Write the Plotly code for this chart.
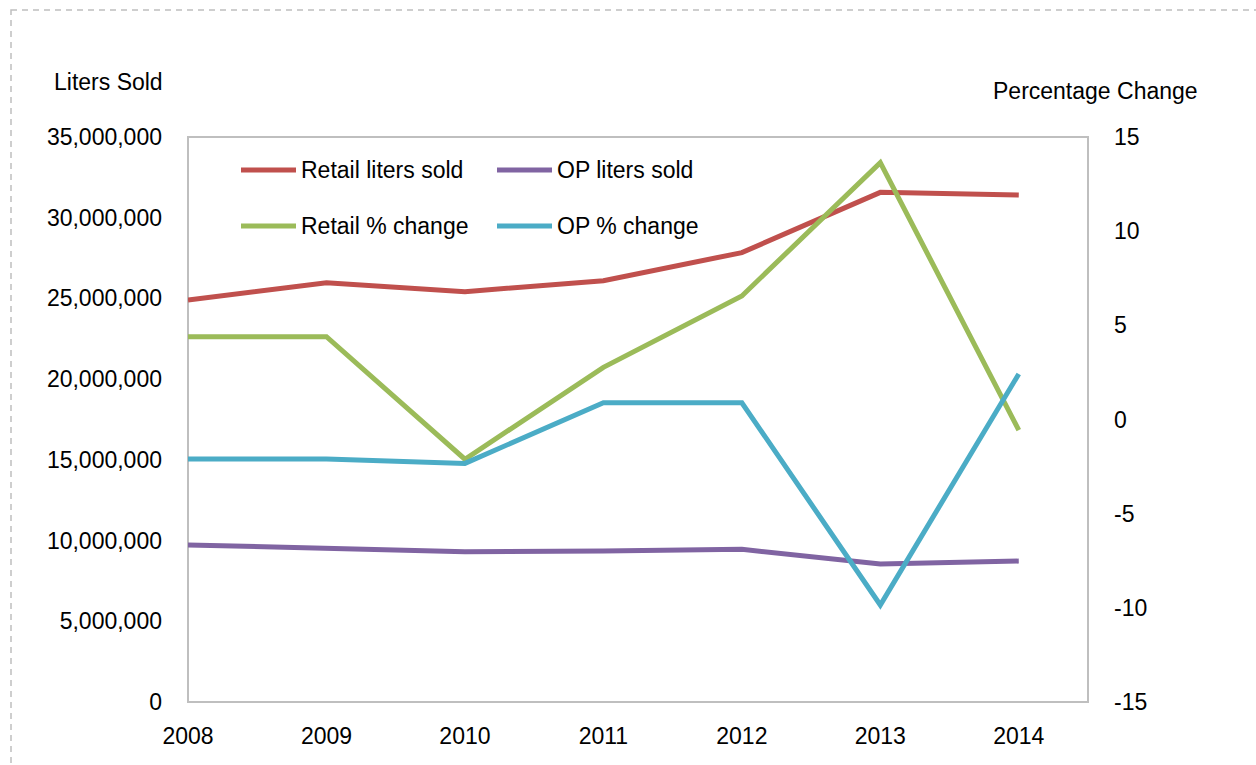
import plotly.graph_objects as go

# Annual volumes and year-over-year percentage change
years = [2008, 2009, 2010, 2011, 2012, 2013, 2014]
retail_liters = [24.90e6, 25.97e6, 25.42e6, 26.10e6, 27.84e6, 31.57e6, 31.41e6]
op_liters = [9.73e6, 9.52e6, 9.31e6, 9.36e6, 9.46e6, 8.55e6, 8.73e6]
retail_pct = [4.40, 4.40, -2.11, 2.77, 6.56, 13.64, -0.56]
op_pct = [-2.10, -2.10, -2.33, 0.89, 0.89, -9.85, 2.42]

left_ticks = list(range(0, 35000001, 5000000))
right_ticks = list(range(-15, 16, 5))
right_labels = [str(v) for v in right_ticks]  # plain hyphen for negatives

RED = "#C0504D"
PURPLE = "#8064A2"
GREEN = "#9BBB59"
CYAN = "#4BACC6"
FONT = "Liberation Sans, Arial, sans-serif"
FSIZE = 23

W, H = 1256, 765
L, R, T, B = 188, 168, 137, 63
PW, PH = W - L - R, H - T - B


def px(x):
    return (x - L) / PW


def py(y):
    return (H - B - y) / PH


fig = go.Figure()
line_style = dict(width=5)
fig.add_trace(go.Scatter(x=years, y=retail_liters, mode="lines", name="Retail liters sold",
                         line=dict(color=RED, **line_style), yaxis="y"))
fig.add_trace(go.Scatter(x=years, y=op_liters, mode="lines", name="OP liters sold",
                         line=dict(color=PURPLE, **line_style), yaxis="y"))
fig.add_trace(go.Scatter(x=years, y=retail_pct, mode="lines", name="Retail % change",
                         line=dict(color=GREEN, **line_style), yaxis="y2"))
fig.add_trace(go.Scatter(x=years, y=op_pct, mode="lines", name="OP % change",
                         line=dict(color=CYAN, **line_style), yaxis="y2"))

shapes = [
    # plot frame
    dict(type="rect", xref="paper", yref="paper", x0=0, y0=0, x1=1, y1=1,
         line=dict(color="#BFBFBF", width=2), layer="below"),
    # dashed outer chart border
    dict(type="rect", xref="paper", yref="paper", x0=px(11), y0=py(10), x1=px(1262), y1=py(780),
         line=dict(color="#BFBFBF", width=1.5, dash="6px,5px")),
]

annotations = [
    dict(text="Liters Sold", xref="paper", yref="paper", x=px(52), y=py(82),
         xanchor="left", yanchor="middle", showarrow=False,
         font=dict(family=FONT, size=FSIZE, color="black")),
    dict(text="Percentage Change", xref="paper", yref="paper", x=px(991), y=py(91),
         xanchor="left", yanchor="middle", showarrow=False,
         font=dict(family=FONT, size=FSIZE, color="black")),
]

# legend drawn inside the plot area, two columns by two rows
legend_items = [
    ("Retail liters sold", RED, 241, 170),
    ("OP liters sold", PURPLE, 497, 170),
    ("Retail % change", GREEN, 241, 226),
    ("OP % change", CYAN, 497, 226),
]
for label, color, lx, ly in legend_items:
    shapes.append(dict(type="line", xref="paper", yref="paper",
                       x0=px(lx), x1=px(lx + 55), y0=py(ly), y1=py(ly),
                       line=dict(color=color, width=5)))
    annotations.append(dict(text=label, xref="paper", yref="paper", x=px(lx + 58), y=py(ly),
                            xanchor="left", yanchor="middle", showarrow=False,
                            font=dict(family=FONT, size=FSIZE, color="black")))

fig.update_layout(
    width=W, height=H,
    margin=dict(l=L, r=R, t=T, b=B, pad=0),
    paper_bgcolor="white", plot_bgcolor="white",
    showlegend=False,
    font=dict(family=FONT, size=FSIZE, color="black"),
    xaxis=dict(range=[2008, 2014.5], tickvals=years, ticktext=[str(y) for y in years],
               showgrid=False, zeroline=False, showline=False, ticks="",
               ticklabelstandoff=18),
    yaxis=dict(range=[0, 35000000], tickvals=left_ticks, tickformat=",",
               showgrid=False, zeroline=False, showline=False, ticks="",
               ticklabelstandoff=25),
    yaxis2=dict(range=[-15, 15], tickvals=right_ticks, ticktext=right_labels,
                overlaying="y", side="right",
                showgrid=False, zeroline=False, showline=False, ticks="",
                ticklabelstandoff=25),
    shapes=shapes,
    annotations=annotations,
)

fig.write_html("out.html")
